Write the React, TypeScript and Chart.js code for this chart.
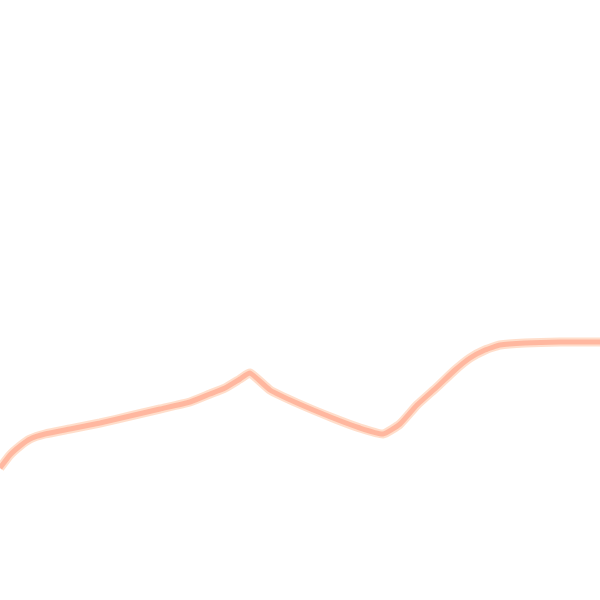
import React, { useEffect, useRef } from "react";
import { Chart, registerables } from "chart.js";

Chart.register(...registerables);

const xPositions = [0, 10, 20, 30, 45, 70, 100, 130, 160, 190, 210, 225, 240, 250, 270, 297, 333, 360, 383, 400, 417, 437, 455, 470, 485, 500, 525, 560, 600];
const values = [132, 145, 154, 161, 166, 171, 177, 184, 191, 198, 206, 212, 221, 227, 210, 197, 182, 172, 166, 176, 195, 213, 230, 242, 250, 255, 257, 258, 258];

export default function App() {
  const ref = useRef<HTMLCanvasElement | null>(null);
  useEffect(() => {
    document.body.style.margin = "0";
    const ctx = ref.current;
    if (!ctx) return;
    const points = xPositions.map((x, i) => ({ x, y: values[i] }));
    const chart = new Chart(ctx, {
      type: "line",
      data: {
        datasets: [
          {
            data: points,
            borderColor: "rgba(255,176,152,0.85)",
            borderWidth: 5,
            pointRadius: 0,
            tension: 0.15,
            fill: false,
            order: 0,
          },
          {
            data: points,
            borderColor: "rgba(255,220,200,0.95)",
            borderWidth: 9,
            pointRadius: 0,
            tension: 0.15,
            fill: false,
            order: 1,
          },
        ],
      },
      options: {
        animation: false,
        responsive: false,
        maintainAspectRatio: false,
        layout: { padding: 0 },
        plugins: { legend: { display: false }, tooltip: { enabled: false } },
        scales: {
          x: { type: "linear", min: 0, max: 600, display: false },
          y: { type: "linear", min: 0, max: 600, display: false },
        },
      },
    });
    return () => chart.destroy();
  }, []);
  return (
    <div style={{ width: 600, height: 600, background: "#fff" }}>
      <canvas ref={ref} width={600} height={600} style={{ display: "block" }} />
    </div>
  );
}
